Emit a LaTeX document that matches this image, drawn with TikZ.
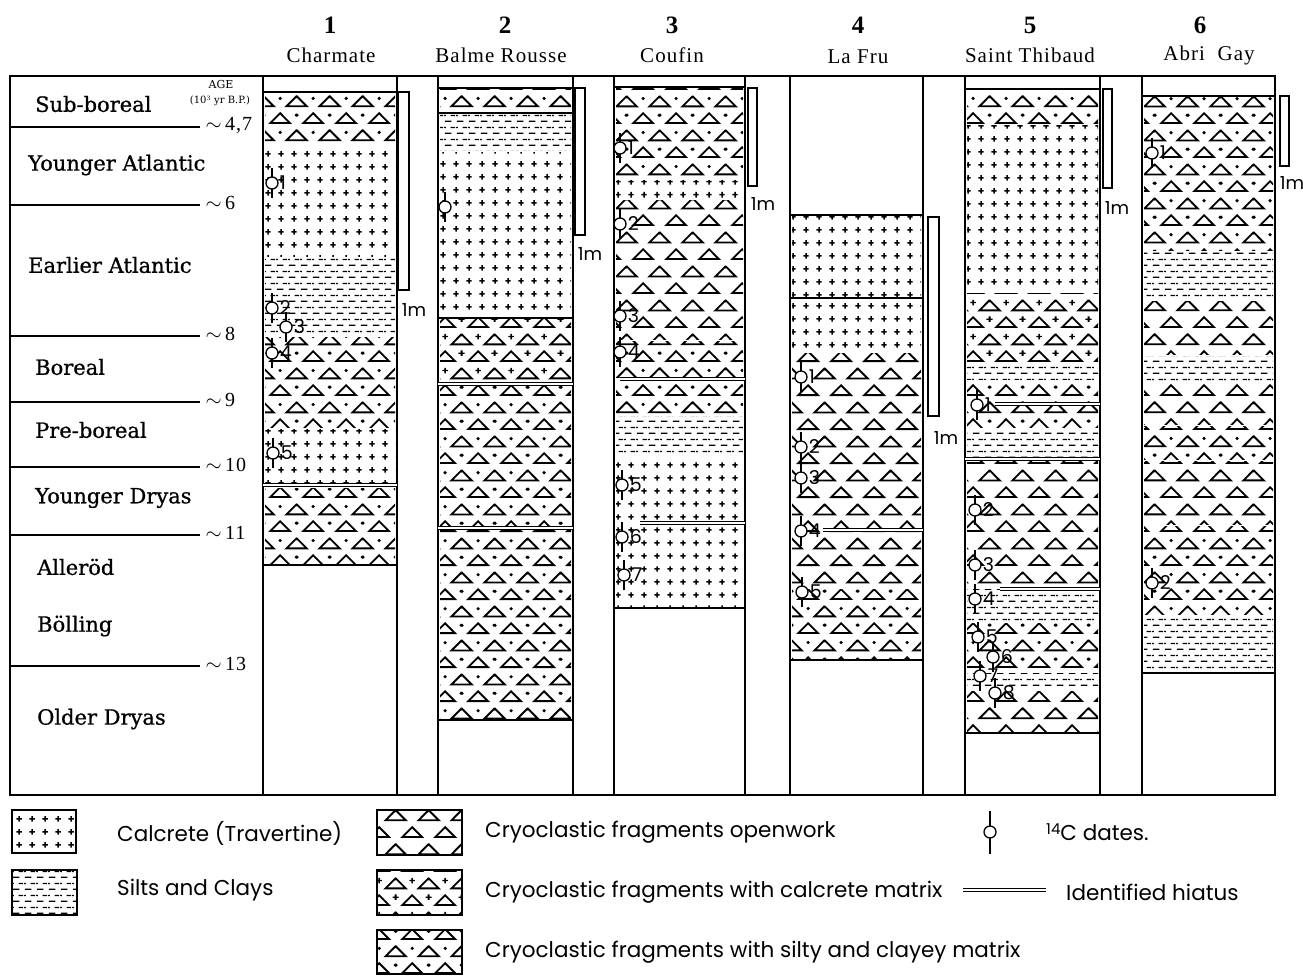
\documentclass[tikz,border=0pt]{standalone}
\usepackage{fontspec}
\setmainfont{DejaVu Serif}
\newfontfamily\periodfont[FakeBold=0.8]{DejaVu Serif}
\newfontfamily\sitefont[LetterSpace=5]{Liberation Serif}
\newfontfamily\legfont{Poppins}
\usepackage{tikz}
\usetikzlibrary{patterns}

% fill symbols of the beds
\newcommand{\tripath}{%
  \pgfpathmoveto{\pgfqpoint{6.5pt}{3pt}}\pgfpathlineto{\pgfqpoint{26.5pt}{3pt}}\pgfpathlineto{\pgfqpoint{16.5pt}{13pt}}\pgfpathclose
  \pgfpathmoveto{\pgfqpoint{-10pt}{20pt}}\pgfpathlineto{\pgfqpoint{10pt}{20pt}}\pgfpathlineto{\pgfqpoint{0pt}{30pt}}\pgfpathclose
  \pgfpathmoveto{\pgfqpoint{23pt}{20pt}}\pgfpathlineto{\pgfqpoint{43pt}{20pt}}\pgfpathlineto{\pgfqpoint{33pt}{30pt}}\pgfpathclose
  \pgfsetlinewidth{1.9pt}\pgfusepath{stroke}}
\newcommand{\smallplus}[2]{%
  \pgfpathmoveto{\pgfpoint{#1pt-2.8pt}{#2pt}}\pgfpathlineto{\pgfpoint{#1pt+2.8pt}{#2pt}}%
  \pgfpathmoveto{\pgfpoint{#1pt}{#2pt-2.8pt}}\pgfpathlineto{\pgfpoint{#1pt}{#2pt+2.8pt}}}

\pgfdeclarepatternformonly{calcrete}{\pgfpointorigin}{\pgfqpoint{12.5pt}{12.5pt}}{\pgfqpoint{12.5pt}{12.5pt}}{%
  \pgfsetlinewidth{1.5pt}\smallplus{6.25}{6.25}\pgfusepath{stroke}}
\pgfdeclarepatternformonly{silts}{\pgfpointorigin}{\pgfqpoint{12pt}{12pt}}{\pgfqpoint{12pt}{12pt}}{%
  \pgfsetlinewidth{1.3pt}%
  \pgfpathmoveto{\pgfqpoint{1pt}{3pt}}\pgfpathlineto{\pgfqpoint{8pt}{3pt}}%
  \pgfpathmoveto{\pgfqpoint{7pt}{9pt}}\pgfpathlineto{\pgfqpoint{12pt}{9pt}}%
  \pgfpathmoveto{\pgfqpoint{0pt}{9pt}}\pgfpathlineto{\pgfqpoint{2pt}{9pt}}%
  \pgfusepath{stroke}}
\pgfdeclarepatternformonly{openwork}{\pgfpointorigin}{\pgfqpoint{33pt}{34pt}}{\pgfqpoint{33pt}{34pt}}{\tripath}
\pgfdeclarepatternformonly{siltmatrix}{\pgfpointorigin}{\pgfqpoint{33pt}{34pt}}{\pgfqpoint{33pt}{34pt}}{%
  \tripath
  \pgfpathcircle{\pgfqpoint{0pt}{11pt}}{1.8pt}\pgfpathcircle{\pgfqpoint{33pt}{11pt}}{1.8pt}%
  \pgfpathcircle{\pgfqpoint{16.5pt}{28pt}}{1.8pt}\pgfusepath{fill}}
\pgfdeclarepatternformonly{calcmatrix}{\pgfpointorigin}{\pgfqpoint{33pt}{34pt}}{\pgfqpoint{33pt}{34pt}}{%
  \tripath
  \pgfsetlinewidth{1.4pt}\smallplus{0}{11}\smallplus{33}{11}\smallplus{16.5}{28}\pgfusepath{stroke}}

\tikzset{
  frame/.style={line width=1.4pt},
  bed/.style={line width=1.5pt},
  hiatus/.style={double, double distance=2.6pt, line width=1pt},
  ageline/.style={line width=1.3pt},
  scalebar/.style={line width=1.2pt, fill=white},
  datering/.style={circle, draw, line width=1.3pt, fill=white, inner sep=0pt, minimum size=12pt},
  datestem/.style={line width=1.8pt},
  datelab/.style={font=\legfont\fontsize{19}{20}\selectfont, inner sep=1pt, anchor=west},
  period/.style={font=\periodfont\fontsize{21}{23}\selectfont, anchor=west, inner sep=0pt},
  agenum/.style={font=\sitefont\fontsize{20}{22}\selectfont, anchor=west, inner sep=0pt},
  sitenum/.style={font=\sitefont\bfseries\fontsize{25}{27}\selectfont, inner sep=0pt},
  sitename/.style={font=\sitefont\fontsize{21}{23}\selectfont, inner sep=0pt},
  meter/.style={font=\legfont\fontsize{18}{20}\selectfont, inner sep=0pt},
  legbox/.style={line width=1.3pt},
  legtext/.style={font=\legfont\fontsize{21.5}{23}\selectfont, anchor=west, inner sep=0pt}
}

\newcommand{\layer}[5]{\fill[pattern=#1] (#2+2,#3+1) rectangle (#4-2,#5-1);}
\newcommand{\cdate}[4]{%
  \draw[datestem] (#2,#3-15) -- (#2,#3+15);
  \node[datering] (#1) at (#2,#3) {};
  \node[datelab] (#1t) at (#1.east) {#4};}

\begin{document}
\begin{tikzpicture}[x=1pt,y=-1pt]
\useasboundingbox (0,0) rectangle (1303,976);

% sites
\node[sitenum] (n1) at (330,25) {1};
\node[sitename] (s1) at (331,55) {Charmate};
\node[sitenum] (n2) at (505,25) {2};
\node[sitename] (s2) at (501,55) {Balme Rousse};
\node[sitenum] (n3) at (672,25) {3};
\node[sitename] (s3) at (672,55) {Coufin};
\node[sitenum] (n4) at (858,25) {4};
\node[sitename] (s4) at (858,57) {La Fru};
\node[sitenum] (n5) at (1030,25) {5};
\node[sitename] (s5) at (1030,55) {Saint Thibaud};
\node[sitenum] (n6) at (1200,25) {6};
\node[sitename] (s6) at (1209,55) {Abri\ \ Gay};

% beds, column by column
\layer{siltmatrix}{263}{92}{397}{145}
\layer{calcrete}{263}{145}{397}{258}
\layer{silts}{263}{258}{397}{336}
\layer{siltmatrix}{263}{336}{397}{428}
\layer{calcrete}{263}{428}{397}{484}
\layer{siltmatrix}{263}{487}{397}{565}

\layer{siltmatrix}{438}{88}{573}{113}
\layer{silts}{438}{113}{573}{152}
\layer{calcrete}{438}{152}{573}{318}
\layer{calcmatrix}{438}{318}{573}{383}
\layer{siltmatrix}{438}{385}{573}{527}
\layer{siltmatrix}{438}{529}{573}{720}

\layer{siltmatrix}{614}{87}{745}{180}
\layer{calcrete}{614}{180}{745}{200}
\layer{openwork}{614}{200}{745}{340}
\layer{siltmatrix}{614}{340}{745}{378}
\layer{siltmatrix}{614}{380}{745}{415}
\layer{silts}{614}{415}{745}{455}
\layer{calcrete}{614}{455}{745}{608}

\layer{calcrete}{790}{215}{923}{298}
\layer{calcrete}{790}{298}{923}{352}
\layer{openwork}{790}{352}{923}{588}
\layer{siltmatrix}{790}{588}{923}{660}

\layer{siltmatrix}{965}{89}{1100}{125}
\layer{calcrete}{965}{125}{1100}{292}
\layer{calcmatrix}{965}{292}{1100}{362}
\layer{silts}{965}{362}{1100}{380}
\layer{siltmatrix}{965}{380}{1100}{428}
\layer{silts}{965}{428}{1100}{458}
\layer{openwork}{965}{460}{1100}{588}
\layer{silts}{965}{588}{1100}{622}
\layer{siltmatrix}{965}{622}{1100}{672}
\layer{silts}{965}{672}{1100}{690}
\layer{openwork}{965}{690}{1100}{733}

\layer{siltmatrix}{1142}{96}{1275}{252}
\layer{silts}{1142}{252}{1275}{300}
\layer{openwork}{1142}{300}{1275}{355}
\layer{silts}{1142}{355}{1275}{382}
\layer{openwork}{1142}{382}{1275}{425}
\layer{siltmatrix}{1142}{425}{1275}{460}
\layer{openwork}{1142}{460}{1275}{525}
\layer{siltmatrix}{1142}{525}{1275}{615}
\layer{silts}{1142}{615}{1275}{673}

% frame and column walls
\draw[frame] (10,76) rectangle (1275,795);
\foreach \x in {263,397,438,573,614,745,790,923,965,1100,1142}
  \draw[frame] (\x,76) -- (\x,795);

% tops, bases and breaks of the sections
\foreach \l/\r/\t/\b in {263/397/92/565,438/573/88/720,614/745/87/608,790/923/215/660,965/1100/89/733,1142/1275/96/673}
  \draw[bed] (\l,\t) -- (\r,\t) (\l,\b) -- (\r,\b);
\draw[bed] (438,113) -- (573,113) (438,318) -- (573,318) (790,298) -- (923,298);
\draw[hiatus] (263,485) -- (397,485);
\draw[hiatus] (438,384) -- (573,384);
\draw[hiatus] (438,528) -- (573,528);
\draw[hiatus] (965,459) -- (1100,459);
\draw[hiatus] (620,379) -- (745,379);
\draw[hiatus] (640,523) -- (745,523);
\draw[hiatus] (823,530) -- (923,530);
\draw[hiatus] (995,404) -- (1100,404);
\draw[hiatus] (1000,589) -- (1100,589);

% age scale
\foreach \y/\a in {127/{4,7},205/6,336/8,402/9,467/10,535/11,666/13}
  \draw[ageline] (10,\y) -- (200,\y) node[agenum] (a\y) at (205,\y-2) {$\sim$\,\a};
\node[font=\fontsize{11}{12}\selectfont, inner sep=0pt] (age) at (221,84) {AGE};
\node[font=\fontsize{10}{12}\selectfont, inner sep=0pt] (unit) at (220,101) {(10$^3$ yr B.P.)};
\node[period] (subb) at (35,104) {Sub-boreal};
\node[period] (yatl) at (28,165) {Younger Atlantic};
\node[period] (eatl) at (28,265) {Earlier Atlantic};
\node[period] (bor) at (35,367) {Boreal};
\node[period] (pbor) at (35,430) {Pre-boreal};
\node[period] (ydry) at (35,498) {Younger Dryas};
\node[period] (all) at (37,567) {Alleröd};
\node[period] (boll) at (37,626) {Bölling};
\node[period] (odry) at (37,719) {Older Dryas};

% one metre bars
\draw[scalebar] (398,92) rectangle (409,290);
\node[meter] (m1) at (414,310) {1m};
\draw[scalebar] (575,88) rectangle (585,235);
\node[meter] (m2) at (590,254) {1m};
\draw[scalebar] (748,88) rectangle (757,186);
\node[meter] (m3) at (763,204) {1m};
\draw[scalebar] (928,217) rectangle (939,416);
\node[meter] (m4) at (946,438) {1m};
\draw[scalebar] (1103,89) rectangle (1112,188);
\node[meter] (m5) at (1117,208) {1m};
\draw[scalebar] (1280,96) rectangle (1289,166);
\node[meter] (m6) at (1292,183) {1m};

% 14C dates
\cdate{d11}{272}{183}{1}
\cdate{d12}{272}{308}{2}
\cdate{d13}{286}{327}{3}
\cdate{d14}{272}{353}{4}
\cdate{d15}{273}{453}{5}
\cdate{d21}{445}{207}{}
\cdate{d31}{620}{148}{1}
\cdate{d32}{620}{224}{2}
\cdate{d33}{620}{316}{3}
\cdate{d34}{620}{352}{4}
\cdate{d35}{622}{485}{5}
\cdate{d36}{622}{537}{6}
\cdate{d37}{624}{575}{7}
\cdate{d41}{801}{377}{1}
\cdate{d42}{801}{447}{2}
\cdate{d43}{801}{478}{3}
\cdate{d44}{801}{531}{4}
\cdate{d45}{802}{592}{5}
\cdate{d51}{977}{405}{1}
\cdate{d52}{975}{510}{2}
\cdate{d53}{975}{565}{3}
\cdate{d54}{975}{599}{4}
\cdate{d55}{978}{637}{5}
\cdate{d56}{993}{657}{6}
\cdate{d57}{980}{676}{7}
\cdate{d58}{995}{693}{8}
\cdate{d61}{1152}{153}{1}
\cdate{d62}{1152}{583}{2}

% legend
\draw[legbox, pattern=calcrete] (12,810) rectangle (76,853);
\node[legtext] (lcal) at (117,833) {Calcrete (Travertine)};
\draw[legbox, pattern=silts] (12,870) rectangle (77,915);
\node[legtext] (lsil) at (117,890) {Silts and Clays};
\draw[legbox, pattern=openwork] (377,810) rectangle (462,855);
\node[legtext] (lopn) at (485,832) {Cryoclastic fragments openwork};
\draw[legbox, pattern=calcmatrix] (377,870) rectangle (462,915);
\node[legtext] (lcmx) at (485,892) {Cryoclastic fragments with calcrete matrix};
\draw[legbox, pattern=siltmatrix] (377,930) rectangle (462,974);
\node[legtext] (lsmx) at (485,952) {Cryoclastic fragments with silty and clayey matrix};
\draw[datestem] (990,811) -- (990,854);
\node[datering] (ldat) at (990,832) {};
\node[legtext] (l14c) at (1046,832) {\raisebox{6pt}{\fontsize{15}{16}\selectfont 14}C dates.};
\draw[hiatus] (963,890) -- (1046,890);
\node[legtext] (lhia) at (1066,892) {Identified hiatus};
\end{tikzpicture}
\end{document}
